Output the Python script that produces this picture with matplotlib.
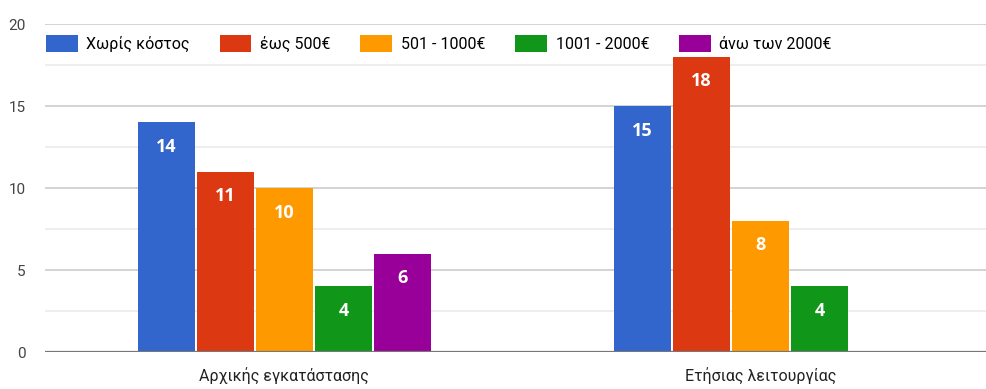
import numpy as np
import matplotlib.pyplot as plt
from matplotlib.ticker import MultipleLocator

plt.rcParams['font.family'] = ['Roboto', 'DejaVu Sans']

# Δεδομένα: κόστος αρχικής εγκατάστασης / ετήσιας λειτουργίας
kathgories = ["Αρχικής εγκατάστασης", "Ετήσιας λειτουργίας"]
seires = ["Χωρίς κόστος", "έως 500€", "501 - 1000€", "1001 - 2000€", "άνω των 2000€"]
xwris_kostos = [14, 15]
eos_500 = [11, 18]
apo_501_1000 = [10, 8]
apo_1001_2000 = [4, 4]
ano_2000 = [6, 0]

times = [xwris_kostos, eos_500, apo_501_1000, apo_1001_2000, ano_2000]
xrwmata = ["#3366cc", "#dc3912", "#ff9900", "#109618", "#990099"]

fig = plt.figure(figsize=(9.87, 3.89), dpi=100)
ax = fig.add_axes([0.0456, 0.0951, 0.9544, 0.8432])

x = np.arange(len(kathgories))
platos = 57 / 476
bhma = 59 / 476

for i, (onoma, vals, c) in enumerate(zip(seires, times, xrwmata)):
    pos = x + (i - 2) * bhma
    vals = np.array(vals, dtype=float)
    mask = vals > 0
    ax.bar(pos[mask], vals[mask], width=platos, color=c, label=onoma, zorder=3)
    for px, v in zip(pos[mask], vals[mask]):
        ax.text(px, v - 1.5, f"{int(v)}", ha="center", va="center",
                color="white", fontsize=13, fontweight="bold",
                family=["Open Sans", "DejaVu Sans"], zorder=4)

ax.set_xlim(-0.503, 1.476)
ax.set_ylim(0, 20)
ax.yaxis.set_major_locator(MultipleLocator(5))
ax.yaxis.set_minor_locator(MultipleLocator(2.5))
ax.grid(axis="y", which="major", color="#cccccc", lw=1.2, zorder=0)
ax.grid(axis="y", which="minor", color="#ebebeb", lw=1.2, zorder=0)
ax.axhline(0, color="#777777", lw=1.6, zorder=5)

ax.set_xticks(x)
ax.set_xticklabels(kathgories, fontsize=11.5, color="#222222")
ax.tick_params(axis="x", length=0, pad=11)
ax.tick_params(axis="y", which="both", length=0, labelsize=11,
               labelcolor="#444444", pad=14)
for s in ax.spines.values():
    s.set_visible(False)

ax.legend(loc="upper left", bbox_to_anchor=(-0.006, 0.985), ncol=5,
          frameon=False, fontsize=11.5, handlelength=2.0, handleheight=1.25,
          handletextpad=0.55, columnspacing=1.85, borderaxespad=0)

fig.savefig("out.png", dpi=100, facecolor="white")
